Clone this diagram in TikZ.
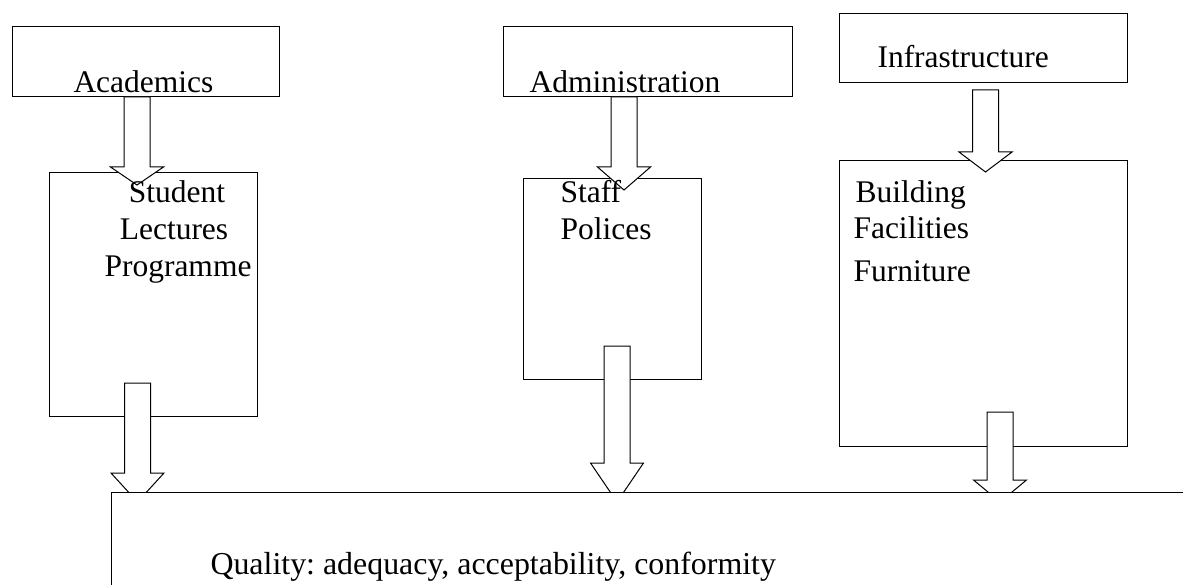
\documentclass[tikz,border=0pt]{standalone}
\usepackage{fontspec}
\setmainfont{Liberation Serif}
\frenchspacing
\newcommand\blockarr[4]{% centre x, top y, head-base y, tip y
  \draw[blk] (#1-13,#2) -- (#1+13,#2) -- (#1+13,#3) -- (#1+26.5,#3) -- (#1,#4)
    -- (#1-26.5,#3) -- (#1-13,#3) -- cycle;}
\begin{document}
\begin{tikzpicture}[x=1pt,y=-1pt,line width=1pt,
  box/.style={draw,fill=white,inner sep=0,outer sep=0,anchor=north west},
  txt/.style={inner sep=0,anchor=base west,font=\fontsize{31.5}{37}\selectfont},
  ctxt/.style={inner sep=0,anchor=base,font=\fontsize{31.5}{37}\selectfont},
  blk/.style={draw,fill=white,line join=miter}]
\useasboundingbox (0,0) rectangle (1183,585);
\clip (0,0) rectangle (1183,585);
% top boxes
\node[box,minimum width=267,minimum height=70] (acad) at (12,27) {};
\node[box,minimum width=289,minimum height=70] (admin) at (503,27) {};
\node[box,minimum width=288,minimum height=69] (infra) at (839,14) {};
% middle boxes
\node[box,minimum width=208,minimum height=243] (stud) at (49,173) {};
\node[box,minimum width=178,minimum height=200] (staff) at (523,179) {};
\node[box,minimum width=288,minimum height=285] (build) at (839,161) {};
% top arrows
\blockarr{137}{97}{167}{185}
\blockarr{624}{97}{167}{190}
\blockarr{985.5}{90}{152}{172}
% texts
\node[txt] (tacad) at (73,93) {Academics};
\node[txt] (tadmin) at (529,93) {Administration};
\node[txt] (tinfra) at (877,68) {Infrastructure};
\node[ctxt] (t1) at (177,203) {Student};
\node[ctxt] (t2) at (174,240) {Lectures};
\node[ctxt] (t3) at (178,277) {Programme};
\node[txt] (t4) at (560,203) {Staff};
\node[txt] (t5) at (560,240) {Polices};
\node[txt] (t6) at (855,203) {Building};
\node[txt] (t7) at (853,239) {Facilities};
\node[txt] (t8) at (853,282) {Furniture};
% bottom arrows
\blockarr{137.5}{383}{473}{502}
\blockarr{617}{346}{463}{502}
\blockarr{1000}{412}{480}{502}
% quality box
\node[box,minimum width=1200,minimum height=200] (qual) at (111,492) {};
\node[txt,font=\fontsize{31.9}{37}\selectfont] (tq) at (210,574) {Quality: adequacy, acceptability, conformity};
\end{tikzpicture}
\end{document}
